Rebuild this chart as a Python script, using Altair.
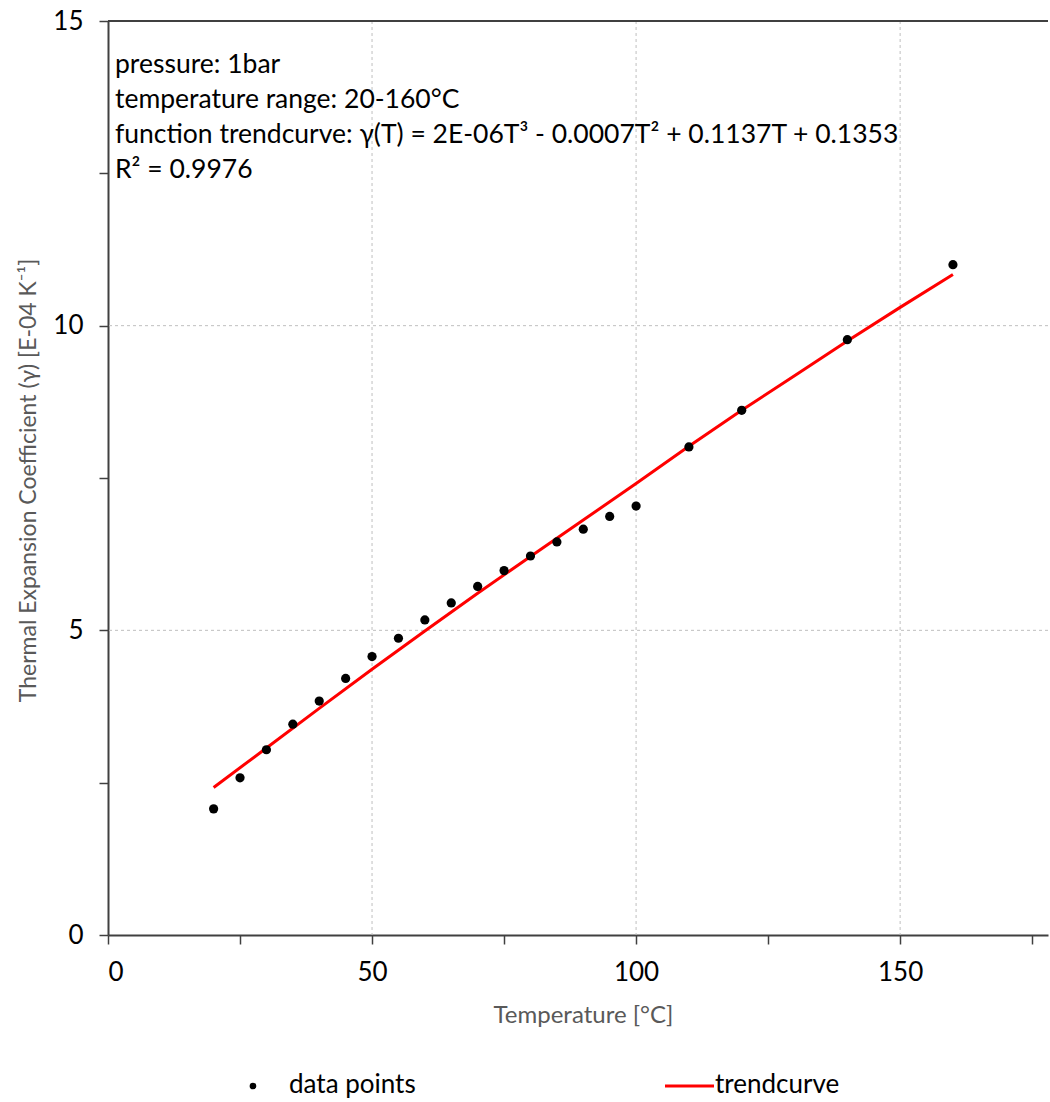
import altair as alt
import pandas as pd

# ---- data ----
temps_pts = [20, 25, 30, 35, 40, 45, 50, 55, 60, 65, 70, 75, 80, 85, 90, 95, 100, 110, 120, 140, 160]
gamma_pts = [2.07, 2.58, 3.04, 3.46, 3.84, 4.21, 4.57, 4.87, 5.17, 5.45, 5.72, 5.98, 6.22, 6.45,
             6.66, 6.87, 7.04, 8.01, 8.61, 9.77, 11.0]

temps_trend = [20, 30, 40, 50, 60, 70, 80, 90, 100, 110, 120, 130, 140, 150, 160]
gamma_trend = [2.42, 3.07, 3.72, 4.36, 4.99, 5.61, 6.21, 6.81, 7.41, 8.02, 8.61, 9.18, 9.75, 10.30, 10.84]

x_ticks = [0, 25, 50, 75, 100, 125, 150, 175]
y_ticks = [0, 2.5, 5, 7.5, 10, 12.5, 15]
x_grid = [50, 100, 150]
y_grid = [5, 10]
y_top = [15]

annotation_lines = [
    "pressure: 1bar",
    "temperature range: 20-160°C",
    "function trendcurve: γ(T) = 2E-06T³ - 0.0007T² + 0.1137T + 0.1353",
    "R² = 0.9976",
]
legend_labels = ["data points", "trendcurve"]

FONT = "Lato"
W, H = 940, 914
XDOM = [0, 178]
YDOM = [0, 15]

pts = pd.DataFrame({"T": temps_pts, "g": gamma_pts})
trend = pd.DataFrame({"T": temps_trend, "g": gamma_trend})

xscale = alt.Scale(domain=XDOM, nice=False, zero=False)
yscale = alt.Scale(domain=YDOM, nice=False)

x_axis = alt.Axis(
    values=x_ticks, labelExpr="datum.value % 50 == 0 ? datum.label : ''",
    title="Temperature  [°C]", titleX=475, titleY=87,
    titleAlign="center", titleBaseline="alphabetic",
    labelPadding=15, tickSize=9, labelFontSize=26, titleFontSize=24,
    labelColor="#000000", titleColor="#595959", titleFontWeight="normal",
    domainColor="#404040", domainWidth=2, tickColor="#404040", tickWidth=1.5,
    labelFont=FONT, titleFont=FONT, grid=False,
)
y_axis = alt.Axis(
    values=y_ticks, labelExpr="datum.value % 5 == 0 ? datum.label : ''",
    title="Thermal Expansion Coefficient (γ) [E-04 K⁻¹]", titleX=-80, titleY=459,
    titleAngle=270, titleAlign="center", titleBaseline="middle",
    labelPadding=16, tickSize=9, labelFontSize=26, titleFontSize=23,
    labelColor="#000000", titleColor="#595959", titleFontWeight="normal",
    domainColor="#404040", domainWidth=2, tickColor="#404040", tickWidth=1.5,
    labelFont=FONT, titleFont=FONT, grid=False,
)

X = lambda f: alt.X(f, scale=xscale, axis=x_axis)
Y = lambda f: alt.Y(f, scale=yscale, axis=y_axis)

vgrid = alt.Chart(pd.DataFrame({"v": x_grid})).mark_rule(
    color="#bfbfbf", strokeDash=[3, 3], strokeWidth=1
).encode(x=X("v:Q"))

hgrid = alt.Chart(pd.DataFrame({"v": y_grid})).mark_rule(
    color="#bfbfbf", strokeDash=[3, 3], strokeWidth=1
).encode(y=Y("v:Q"))

topline = alt.Chart(pd.DataFrame({"v": y_top})).mark_rule(
    color="#404040", strokeWidth=2
).encode(y=Y("v:Q"))

line = alt.Chart(trend).mark_line(color="#ff0000", strokeWidth=3).encode(x=X("T:Q"), y=Y("g:Q"))

points = alt.Chart(pts).mark_circle(color="#000000", size=85, opacity=1).encode(
    x=X("T:Q"), y=Y("g:Q")
)

annot = alt.Chart(pd.DataFrame({"t": ["\n".join(annotation_lines)]})).mark_text(
    align="left", baseline="alphabetic", font=FONT, fontSize=26.5, color="#000000",
    lineBreak="\n", lineHeight=35,
).encode(text="t:N", x=alt.value(7), y=alt.value(52))

# manual legend below the plot
leg_pt = alt.Chart(pd.DataFrame({"a": [0]})).mark_circle(color="#000000", size=45, opacity=1).encode(
    x=alt.value(145), y=alt.value(1065)
)
leg_t1 = alt.Chart(pd.DataFrame({"t": [legend_labels[0]]})).mark_text(
    align="left", baseline="middle", font=FONT, fontSize=26, color="#000000"
).encode(text="t:N", x=alt.value(181), y=alt.value(1064))
leg_line = alt.Chart(pd.DataFrame({"a": [0]})).mark_rule(color="#ff0000", strokeWidth=3).encode(
    x=alt.value(557), x2=alt.value(606), y=alt.value(1065)
)
leg_t2 = alt.Chart(pd.DataFrame({"t": [legend_labels[1]]})).mark_text(
    align="left", baseline="middle", font=FONT, fontSize=26, color="#000000"
).encode(text="t:N", x=alt.value(607), y=alt.value(1064))

chart = alt.layer(
    vgrid, hgrid, topline, line, points, annot, leg_pt, leg_t1, leg_line, leg_t2
).properties(
    width=W, height=H,
    autosize=alt.AutoSizeParams(type="none"),
    padding={"left": 108, "top": 21, "right": 2, "bottom": 167},
    background="#ffffff",
).configure_view(stroke=None)

chart.save("out.html", embed_options={"renderer": "svg", "actions": False})
